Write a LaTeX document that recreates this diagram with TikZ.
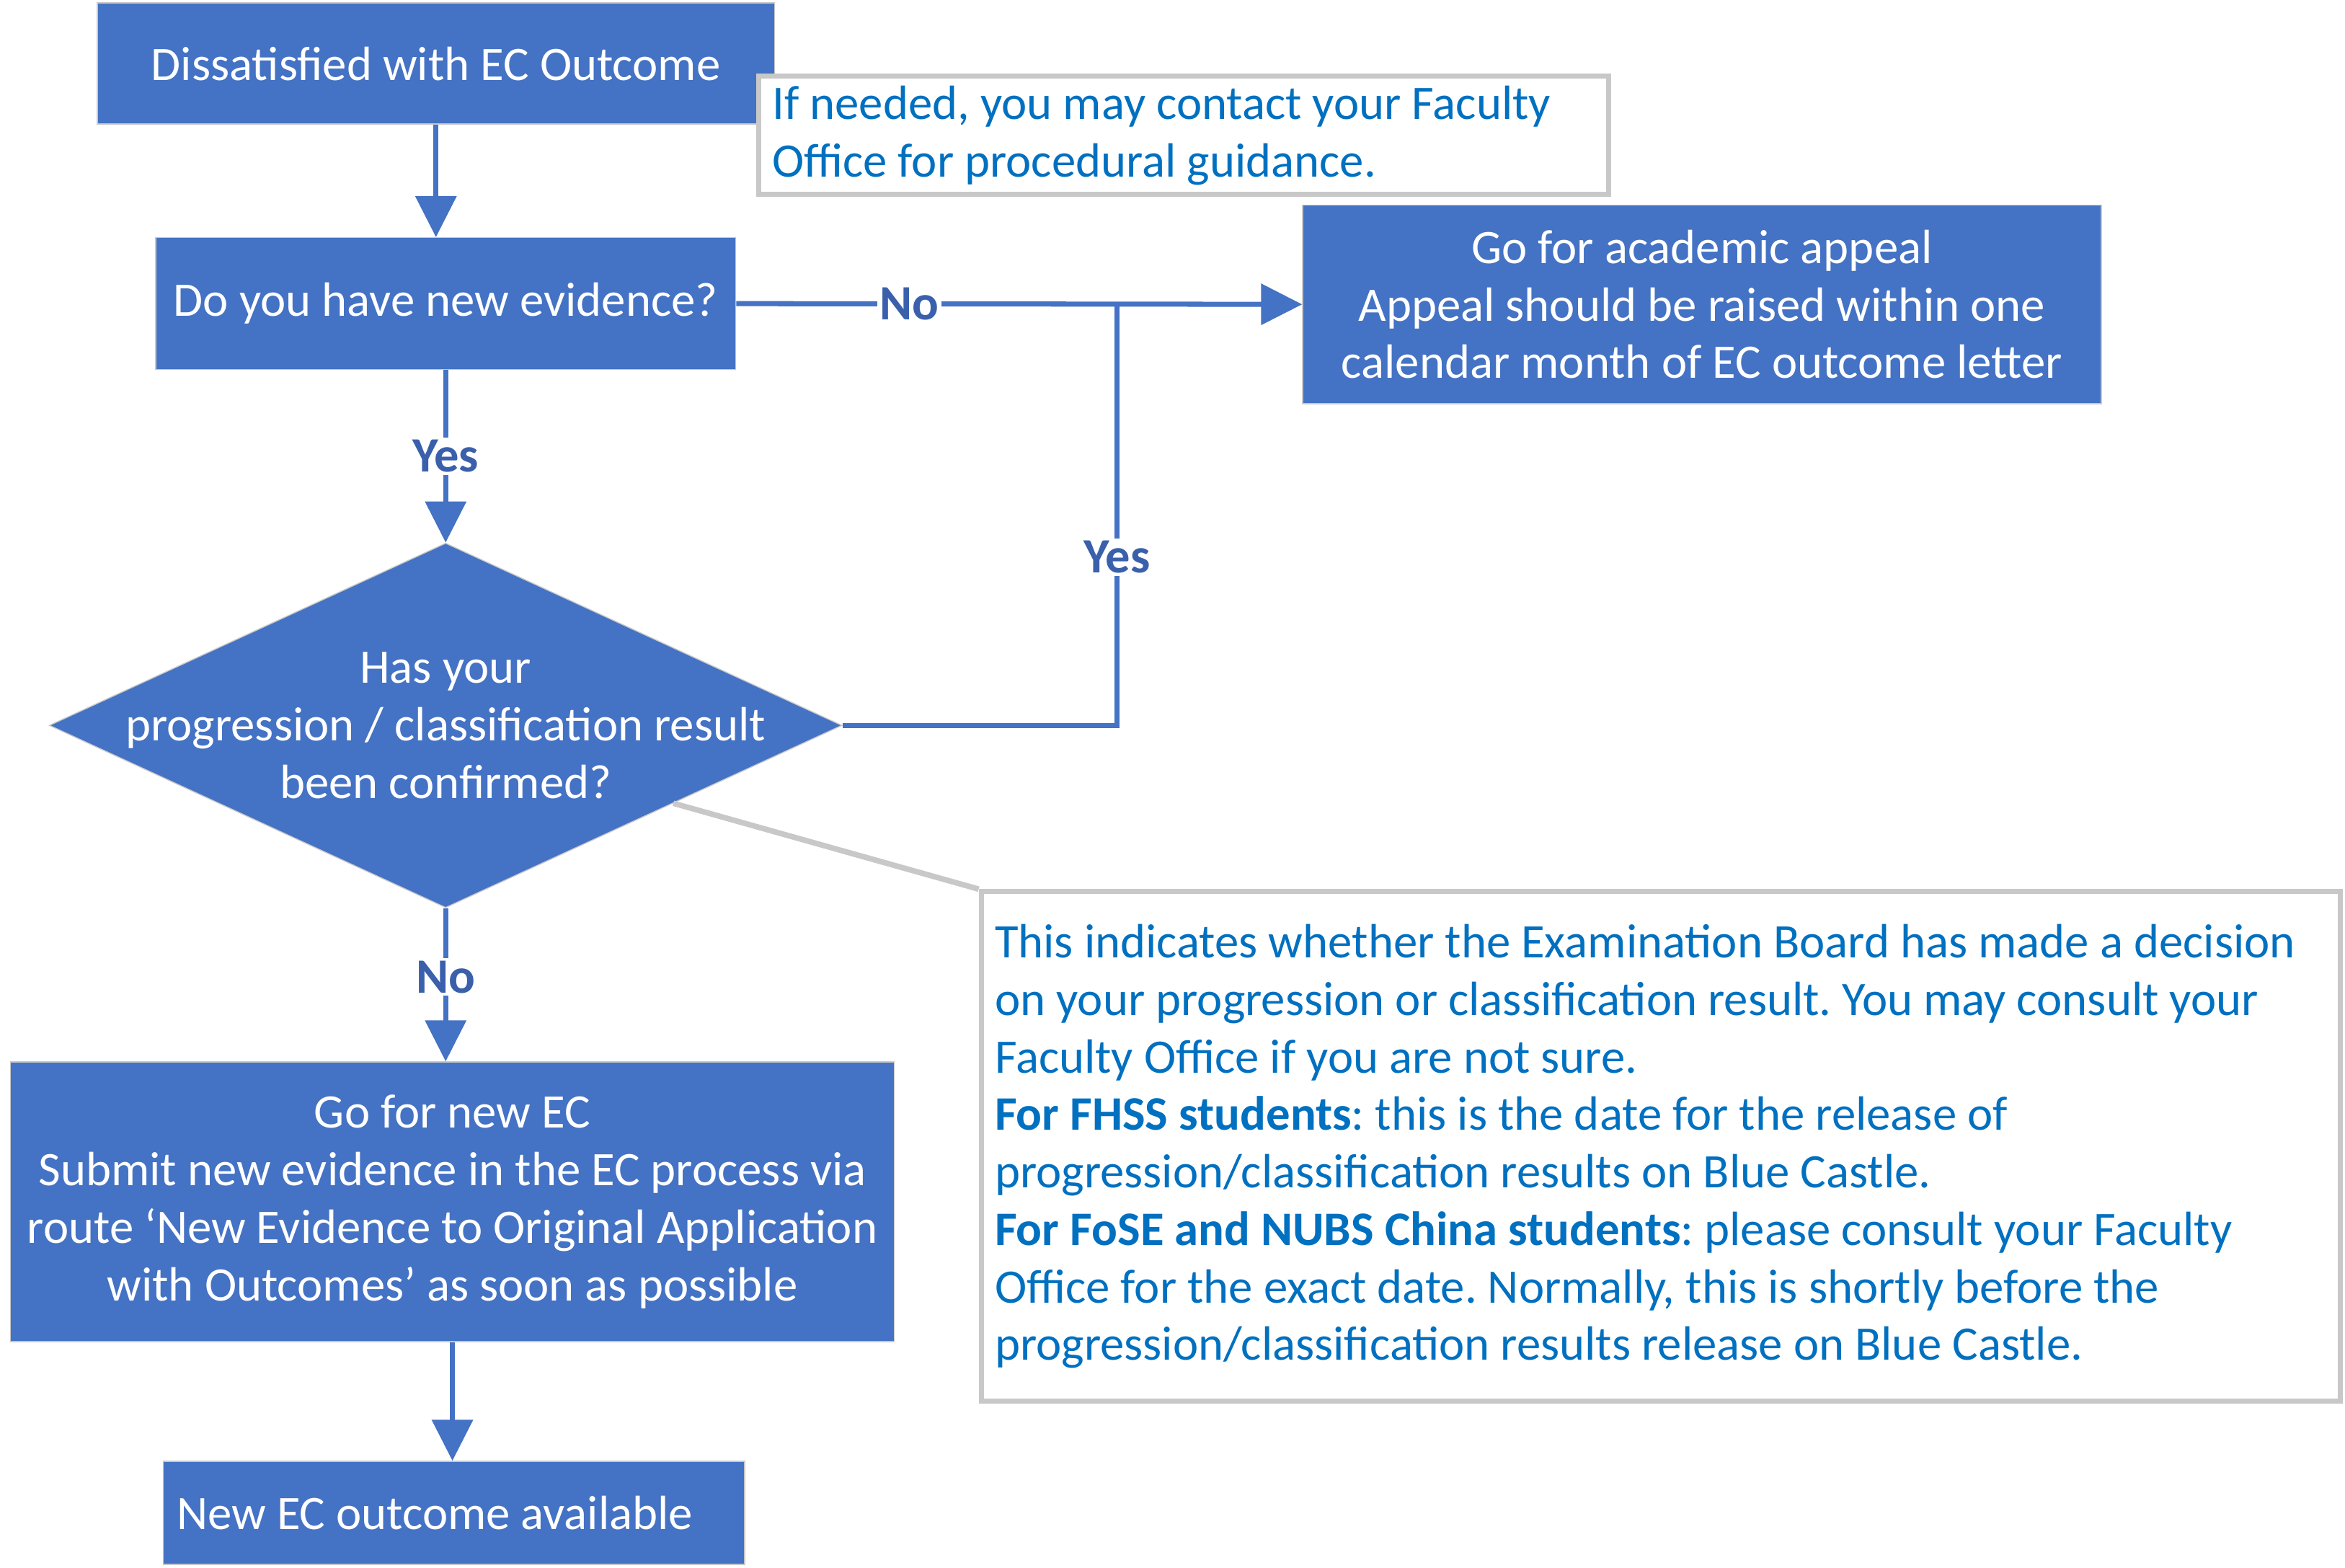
\documentclass[tikz,border=0pt]{standalone}
\usepackage{fontspec}
\setmainfont{Carlito}
\frenchspacing
\usetikzlibrary{arrows.meta,shapes.geometric,calc}
\definecolor{boxblue}{HTML}{4472C4}
\definecolor{lblblue}{HTML}{3A60AC}
\definecolor{noteblue}{HTML}{0070C0}
\definecolor{notegray}{HTML}{C8C8C8}
\tikzset{
  txt/.style={font=\fontsize{19}{22.7}\selectfont},
  rigid/.style={execute at begin node={\spaceskip=\fontdimen2\font\relax\xspaceskip=\spaceskip}},
  box/.style={txt, rectangle, fill=boxblue, draw=notegray, line width=0.4pt, text=white, align=center, inner sep=0pt},
  dia/.style={diamond, fill=boxblue, draw=notegray, line width=0.4pt, inner sep=0pt},
  notebox/.style={txt, rigid, rectangle, fill=white, draw=notegray, line width=2pt, text=noteblue, align=left, inner xsep=0.19cm, inner ysep=0pt},
  lbl/.style={font=\fontsize{19.5}{22.7}\selectfont\bfseries, fill=white, text=lblblue, inner sep=1pt},
  conn/.style={draw=boxblue, line width=2pt},
  arr/.style={conn, -{Triangle[length=0.57cm, width=0.56cm]}},
  pointer/.style={draw=notegray, line width=2.2pt}
}
\begin{document}
\begin{tikzpicture}[x=0.020746cm, y=-0.020746cm]
\useasboundingbox (0,0) rectangle (1568,1048);

% boxes
\node[box, minimum width=9.40cm, minimum height=1.68cm] (b1) at (291.5,42.5) {Dissatisfied with EC Outcome};
\node[notebox, minimum width=11.80cm, minimum height=1.64cm, text width=11.42cm] (n1) at (791.5,90.5)
  {If needed, you may contact your Faculty\\Office for procedural guidance.};
\node[box, minimum width=8.05cm, minimum height=1.83cm] (b2) at (298,203) {Do you have new evidence?};
\node[box, minimum width=11.08cm, minimum height=2.76cm] (b3) at (1138,203.5)
  {Go for academic appeal\\Appeal should be raised within one\\calendar month of EC outcome letter};
\node[dia, minimum width=11.0cm, minimum height=5.06cm] (d) at (298,485) {};
\node[txt, text=white, align=center] (dt) at (298,485)
  {Has your\\progression / classification result\\been confirmed?};
\node[box, minimum width=12.26cm, minimum height=3.88cm] (b4) at (302.5,803.5)
  {Go for new EC\\Submit new evidence in the EC process via\\route ‘New Evidence to Original Application\\with Outcomes’ as soon as possible};
\node[box, rigid, minimum width=8.07cm, minimum height=1.43cm, text width=7.69cm, align=left, inner xsep=0.19cm] (b5) at (303.5,1011.5)
  {New EC outcome available};
\node[notebox, minimum width=18.86cm, minimum height=7.07cm, text width=18.48cm] (n2) at (1110.5,766.5)
  {This indicates whether the Examination Board has made a decision\\
   on your progression or classification result. You may consult your\\
   Faculty Office if you are not sure.\\
   \textbf{For FHSS students}: this is the date for the release of\\
   progression/classification results on Blue Castle.\\
   \textbf{For FoSE and NUBS China students}: please consult your Faculty\\
   Office for the exact date. Normally, this is shortly before the\\
   progression/classification results release on Blue Castle.};

% connectors
\coordinate (j) at (747,204);
\draw[arr] (b1.south) -- (b1.south |- b2.north);
\draw[arr] (b2.east) -- node[lbl, pos=0.306] {No} (b3.west);
\draw[arr] (b2.south) -- node[lbl, pos=0.5] {Yes} (d.north);
\draw[conn] (d.east) -| node[lbl, pos=0.70] {Yes} (j);
\draw[arr] (d.south) -- node[lbl, pos=0.45] {No} (d.south |- b4.north);
\draw[arr] (b4.south) -- (b4.south |- b5.north);
\draw[pointer] (n2.north west) -- ($(d.east)!0.426!(d.south)$);
\end{tikzpicture}
\end{document}
